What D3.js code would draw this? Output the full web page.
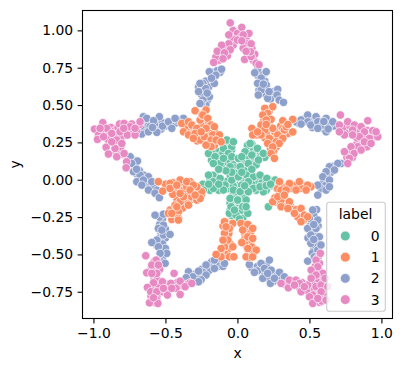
<!DOCTYPE html>
<html>
<head>
<meta charset="utf-8">
<script src="https://cdn.jsdelivr.net/npm/d3@7"></script>
<style>
  html, body { margin: 0; padding: 0; background: #fff; }
  svg { display: block; }
  text { font-family: "DejaVu Sans", sans-serif; font-size: 13.9px; fill: #000; }
</style>
</head>
<body>
<div id="chart"></div>
<script>
const labels = ["0", "1", "2", "3"];
const colors = ["#66c2a5", "#fc8d62", "#8da0cb", "#e78ac3"];
const xTicks = [-1, -0.5, 0, 0.5, 1];
const yTicks = [-0.75, -0.5, -0.25, 0, 0.25, 0.5, 0.75, 1];

// points, [x, y]
const label0 = [
  [-0.06,0.23],[-0.1,0.24],[-0.07,0.2],[-0.04,0.2],[-0.14,0.19],[-0.17,0.17],[-0.12,0.16],[-0.18,0.13],[-0.14,0.12],[-0.09,0.11],
  [-0.05,0.12],[-0.1,0.18],[-0.03,0.1],[-0.07,0.07],[-0.11,0.08],[-0.04,0.22],
  [0.07,0.2],[0.11,0.21],[0.1,0.24],[0.13,0.18],[0.16,0.18],[0.16,0.15],[0.12,0.13],[0.09,0.14],[0.06,0.14],[0.05,0.11],[0.1,0.1],
  [0.03,0.12],[0.04,0.09],[0.13,0.1],[0.07,0.23],[0.19,0.15],
  [-0.19,0],[-0.22,-0.04],[-0.2,-0.06],[-0.15,0.02],[-0.14,-0.04],[-0.13,-0.07],[-0.1,-0.02],[-0.07,-0.01],[-0.07,-0.06],[-0.17,0.03],
  [-0.24,-0.03],[-0.19,-0.07],
  [-0.02,0.08],[0,0.05],[-0.02,0.01],[0.02,0],[0.04,-0.01],[0.01,-0.04],[-0.03,-0.04],[-0.05,0.03],[0.05,0.06],[0.03,0.03],
  [0.09,0.01],[0.13,0],[0.14,-0.03],[0.1,-0.03],[0.17,-0.02],[0.2,-0.02],[0.22,0],[0.24,-0.04],[0.2,-0.07],[0.17,-0.06],[0.13,-0.07],
  [0.07,-0.04],[0.25,-0.01],[0.27,-0.03],
  [0,-0.1],[-0.03,-0.1],[0.03,-0.09],[0.03,-0.14],[-0.03,-0.15],[-0.02,-0.17],[0.02,-0.17],[0,-0.19],[0.04,-0.22],[-0.02,-0.23],[0,-0.25],
  [-0.05,-0.2],[0.05,-0.16],[-0.04,-0.24],[0.03,-0.26],[-0.03,-0.13],
  [-0.074,0.266],[-0.028,0.254],[-0.201,0.176],[-0.155,0.154],[-0.097,0.21],[-0.0625,0.176],[-0.12,0.109],[-0.167,0.109],
  [-0.097,0.143],[-0.039,0.154],[0.007,0.143],[0.088,0.243],[0.139,0.21],[0.18,0.176],[0.053,0.1875],[0.1,0.165],
  [0.03,0.154],[0.146,0.132],[0.076,0.109],[0.019,0.087],[-0.051,0.087],[-0.016,0.042],[-0.201,0.031],[-0.167,-0.013],
  [-0.236,-0.069],[-0.167,-0.058],[-0.12,0.009],[-0.086,-0.036],[-0.039,-0.002],[0.007,0.02],[0.065,0.031],[0.111,0.02],
  [0.157,0.031],[0.204,0.009],[0.076,-0.013],[0.03,-0.036],[0.111,-0.058],[0.18,-0.08],[0.262,-0.002],[0.273,-0.058],
  [0.215,-0.181],[0.157,-0.047],[-0.028,-0.069],[0.019,-0.08],[-0.051,-0.158],[0.007,-0.136],[0.053,-0.125],[-0.016,-0.203],
  [0.019,-0.237],[0.053,-0.192],[-0.051,-0.125],[0.076,-0.08],[-0.097,-0.069],[-0.056,-0.225],[0.037,-0.259],[0.002,-0.136],
  [0.06,-0.136],[-0.044,-0.181],[0.025,-0.203],[0.072,-0.225],[-0.009,-0.237],[0.037,-0.181],[0.014,-0.263],[-0.021,-0.203],
  [0.06,-0.181],[-0.04,0.05],[0.03,0.05],[-0.08,0.06],[0.1,0.07],[-0.13,0.07],[0.05,-0.04],[-0.13,-0.03],[-0.2,-0.03],
  [0.2,-0.04],[0.23,-0.03]
];
const label1 = [
  [0.22,0.46],[0.2,0.43],[0.22,0.38],[0.18,0.39],[0.16,0.34],[0.18,0.35],[0.21,0.35],[0.13,0.3],[0.19,0.28],[0.26,0.32],[0.29,0.33],
  [0.3,0.36],[0.28,0.27],[0.25,0.26],[0.3,0.26],[0.23,0.24],[0.27,0.22],[0.23,0.21],[0.25,0.19],[0.35,0.31],[0.31,0.31],[0.15,0.33],[0.2,0.31],
  [-0.35,0.35],[-0.33,0.33],[-0.3,0.34],[-0.27,0.3],[-0.32,0.3],[-0.28,0.26],[-0.25,0.29],[-0.24,0.27],[-0.23,0.38],[-0.22,0.41],[-0.2,0.38],
  [-0.2,0.34],[-0.19,0.31],[-0.2,0.29],[-0.15,0.31],[-0.16,0.26],[-0.2,0.24],[-0.16,0.23],[-0.13,0.27],[-0.25,0.36],[-0.23,0.45],[-0.36,0.36],
  [0.28,-0.06],[0.32,-0.05],[0.35,-0.04],[0.4,-0.04],[0.45,-0.04],[0.26,-0.12],[0.27,-0.15],[0.33,-0.15],[0.33,-0.18],[0.37,-0.18],[0.38,-0.2],
  [0.41,-0.2],[0.42,-0.25],[0.46,-0.27],[0.3,-0.16],[0.39,-0.04],[0.47,-0.04],
  [-0.07,-0.29],[-0.05,-0.3],[-0.07,-0.34],[-0.08,-0.38],[-0.06,-0.36],[-0.08,-0.43],[-0.05,-0.43],[-0.1,-0.48],[-0.07,-0.47],[-0.08,-0.5],
  [-0.12,-0.49],[0.05,-0.3],[0.08,-0.33],[0.05,-0.36],[0.09,-0.36],[0.05,-0.4],[0.09,-0.42],[0.05,-0.43],[0.1,-0.45],[0.08,-0.49],[0.11,-0.49],
  [0.09,-0.52],[-0.1,-0.31],
  [-0.5,-0.05],[-0.46,-0.05],[-0.43,-0.07],[-0.4,-0.05],[-0.37,-0.04],[-0.35,-0.08],[-0.32,-0.05],[-0.3,-0.08],[-0.27,-0.07],[-0.25,-0.1],
  [-0.38,-0.13],[-0.36,-0.15],[-0.42,-0.13],[-0.4,-0.17],[-0.45,-0.2],[-0.43,-0.22],[-0.38,-0.19],[-0.32,-0.13],[-0.3,-0.12],[-0.44,-0.25],
  [-0.5,-0.03],[-0.45,-0.02],
  [0.245,0.489],[0.19,0.478],[0.21,0.444],[0.176,0.433],[0.234,0.404],[0.2,0.4],[0.315,0.395],[0.384,0.404],[0.164,0.366],
  [0.315,0.344],[0.245,0.344],[0.19,0.333],[0.1,0.344],[0.106,0.3],[0.164,0.3],[0.384,0.32],[0.326,0.333],[0.28,0.3],
  [0.315,0.277],[0.222,0.277],[0.27,0.254],[0.21,0.243],[0.29,0.243],[0.245,0.22],[0.234,0.176],[0.257,0.143],[0.338,0.355],
  [0.14,0.32],[0.2,0.37],[0.35,0.37],
  [0.303,-0.069],[0.373,-0.058],[0.442,-0.058],[0.51,-0.047],[0.245,-0.147],[0.303,-0.136],[0.361,-0.147],[0.303,-0.181],
  [0.35,-0.192],[0.442,-0.192],[0.396,-0.225],[0.465,-0.237],[0.442,-0.281],[0.488,-0.248],[0.292,-0.013],[0.361,-0.025],
  [0.43,-0.013],[0.488,-0.036],[0.338,-0.069],[0.407,-0.069],[0.477,-0.069],[0.28,-0.114],[0.326,-0.103],
  [-0.09,-0.281],[-0.032,-0.292],[-0.056,-0.326],[-0.09,-0.359],[-0.067,-0.404],[-0.09,-0.449],[-0.032,-0.449],[-0.113,-0.46],
  [-0.113,-0.516],[-0.148,-0.5],[-0.056,-0.516],[-0.025,-0.516],[0.025,-0.292],[0.072,-0.299],[0.037,-0.337],[0.106,-0.326],
  [0.072,-0.382],[0.106,-0.393],[0.03,-0.42],[0.072,-0.46],[0.13,-0.471],[0.06,-0.516],[0.106,-0.516],[-0.079,-0.315],[-0.1,-0.404],
  [-0.387,0.377],[-0.34,0.388],[-0.317,0.366],[-0.282,0.344],[-0.375,0.321],[-0.34,0.3],[-0.294,0.31],[-0.259,0.266],
  [-0.306,0.277],[-0.294,0.462],[-0.259,0.4],[-0.248,0.433],[-0.218,0.467],[-0.24,0.433],[-0.206,0.411],[-0.183,0.366],
  [-0.218,0.344],[-0.16,0.355],[-0.171,0.3],[-0.125,0.3],[-0.229,0.288],[-0.183,0.266],[-0.148,0.266],[-0.252,0.321],
  [-0.183,0.221],[-0.218,0.232],[-0.113,0.254],
  [-0.549,-0.013],[-0.468,-0.025],[-0.398,-0.002],[-0.329,-0.013],[-0.519,-0.076],[-0.449,-0.098],[-0.375,-0.069],[-0.317,-0.114],
  [-0.248,-0.08],[-0.398,-0.147],[-0.34,-0.17],[-0.282,-0.136],[-0.468,-0.203],[-0.41,-0.214],[-0.456,-0.266],[-0.41,-0.259],
  [-0.421,-0.047],[-0.352,-0.047],[-0.282,-0.047],[-0.468,-0.058],[-0.375,-0.114],[-0.433,-0.17],[-0.479,-0.225],
  [-0.421,-0.036],[-0.352,-0.013],[-0.306,-0.036],[-0.398,-0.092],[-0.329,-0.069],[-0.259,-0.125],[-0.421,-0.181],[-0.456,-0.225],
  [-0.41,-0.27],[-0.294,-0.103]
];
const label2 = [
  [0.14,0.7],[0.18,0.71],[0.19,0.66],[0.16,0.62],[0.15,0.6],[0.19,0.61],[0.2,0.57],[0.17,0.58],[0.24,0.56],[0.25,0.59],[0.23,0.54],[0.14,0.74],
  [-0.12,0.72],[-0.17,0.72],[-0.17,0.67],[-0.19,0.65],[-0.22,0.66],[-0.2,0.62],[-0.23,0.57],[-0.21,0.53],[-0.22,0.5],[-0.25,0.57],[-0.14,0.73],[-0.27,0.62],
  [0.46,0.39],[0.47,0.41],[0.52,0.41],[0.53,0.39],[0.52,0.35],[0.57,0.37],[0.59,0.39],[0.61,0.39],[0.63,0.39],[0.6,0.34],[0.64,0.36],[0.67,0.36],[0.42,0.38],[0.55,0.41],
  [0.67,0.09],[0.65,0.05],[0.62,0.03],[0.6,-0.01],[0.61,-0.04],[0.58,-0.06],[0.55,-0.2],[0.53,-0.24],[0.52,-0.28],[0.51,-0.3],[0.56,-0.31],[0.53,-0.35],
  [0.49,-0.39],[0.54,-0.38],[0.53,-0.45],[0.55,-0.43],[0.52,-0.49],
  [0.1,-0.59],[0.14,-0.58],[0.17,-0.6],[0.14,-0.61],[0.2,-0.6],[0.22,-0.64],[0.24,-0.63],[0.19,-0.64],[0.27,-0.63],[0.25,-0.68],[0.22,-0.66],[0.3,-0.66],[0.2,-0.57],
  [-0.12,-0.55],[-0.13,-0.58],[-0.18,-0.55],[-0.19,-0.59],[-0.22,-0.6],[-0.2,-0.61],[-0.25,-0.6],[-0.26,-0.64],[-0.29,-0.63],[-0.33,-0.64],[-0.28,-0.66],[-0.1,-0.58],
  [-0.53,-0.27],[-0.52,-0.26],[-0.54,-0.3],[-0.5,-0.33],[-0.53,-0.36],[-0.5,-0.39],[-0.54,-0.39],[-0.56,-0.44],[-0.52,-0.43],[-0.53,-0.47],[-0.5,-0.46],[-0.52,-0.52],[-0.53,-0.55],[-0.54,-0.25],
  [-0.71,0.1],[-0.7,0.04],[-0.68,0.06],[-0.66,0.01],[-0.63,-0.02],[-0.6,-0.04],[-0.58,-0.05],[-0.56,-0.07],[-0.72,0.13],[-0.74,0.14],[-0.65,0.03],
  [-0.63,0.38],[-0.6,0.39],[-0.57,0.36],[-0.55,0.38],[-0.52,0.38],[-0.5,0.36],[-0.47,0.38],[-0.45,0.38],[-0.43,0.38],[-0.65,0.36],[-0.64,0.33],[-0.62,0.36],[-0.53,0.34],
  [0.12,0.716],[0.2,0.723],[0.165,0.68],[0.14,0.645],[0.2,0.634],[0.165,0.6],[0.28,0.605],[0.145,0.567],[0.21,0.545],[0.275,0.567],
  [0.29,0.533],[0.32,0.518],[0.18,0.64],[0.22,0.59],
  [-0.11,0.74],[-0.195,0.723],[-0.15,0.7],[-0.16,0.645],[-0.24,0.645],[-0.22,0.61],[-0.195,0.556],[-0.24,0.533],[-0.25,0.51],
  [-0.26,0.645],[-0.27,0.59],[-0.26,0.51],[-0.18,0.68],[-0.21,0.58],
  [0.407,0.388],[0.442,0.4],[0.488,0.433],[0.546,0.422],[0.488,0.388],[0.51,0.366],[0.558,0.388],[0.442,0.373],[0.616,0.411],
  [0.616,0.321],[0.593,0.366],[0.639,0.366],[0.558,0.344],[0.662,0.388],[0.6,0.39],[0.63,0.34],
  [0.72,0.109],[0.639,0.087],[0.697,0.109],[0.674,0.065],[0.616,0.054],[0.593,0.02],[0.639,-0.002],[0.558,-0.036],
  [0.616,-0.069],[0.558,-0.103],[0.639,-0.047],[0.523,-0.203],[0.5,-0.259],[0.558,-0.27],[0.488,-0.326],[0.546,-0.326],[0.51,-0.37],
  [0.569,-0.382],[0.51,-0.426],[0.558,-0.47],[0.488,-0.545],[0.535,-0.516],[0.58,-0.437],[0.53,-0.3],[0.53,-0.4],
  [0.083,-0.567],[0.222,-0.538],[0.164,-0.56],[0.118,-0.62],[0.1875,-0.594],[0.234,-0.605],[0.292,-0.62],[0.176,-0.66],
  [0.229,-0.694],[0.257,-0.66],[0.326,-0.65],[0.21,-0.627],
  [-0.16,-0.538],[-0.09,-0.56],[-0.16,-0.594],[-0.218,-0.571],[-0.24,-0.62],[-0.218,-0.638],[-0.252,-0.67],[-0.34,-0.616],
  [-0.27,-0.612],[-0.31,-0.65],[-0.356,-0.656],[-0.27,-0.683],
  [-0.653,0.422],[-0.63,0.411],[-0.542,0.422],[-0.606,0.355],[-0.52,0.359],[-0.56,0.317],[-0.479,0.388],[-0.664,0.306],[-0.618,0.321],
  [-0.456,0.344],[-0.375,0.411],[-0.421,0.4],[-0.671,0.359],[-0.583,0.395],[-0.433,0.411],[-0.59,0.35],
  [-0.745,0.154],[-0.694,0.125],[-0.734,0.109],[-0.722,0.054],[-0.676,0.031],[-0.618,0.02],[-0.699,-0.013],[-0.653,-0.002],[-0.595,-0.013],
  [-0.664,-0.036],[-0.618,-0.069],[-0.572,-0.09],[-0.542,-0.12],[-0.7,0.07],
  [-0.572,-0.237],[-0.514,-0.23],[-0.514,-0.304],[-0.549,-0.326],[-0.514,-0.37],[-0.468,-0.366],[-0.56,-0.404],[-0.595,-0.42],[-0.549,-0.449],
  [-0.491,-0.493],[-0.537,-0.493],[-0.502,-0.56],[-0.56,-0.538],[-0.525,-0.337]
];
const label3 = [
  [-0.03,1],[0,0.98],[0.06,0.95],[-0.03,0.94],[0.02,0.95],[-0.08,0.88],[-0.03,0.9],[0.07,0.91],[0.1,0.88],[0.12,0.84],[0.07,0.84],[0.11,0.8],
  [-0.12,0.83],[-0.13,0.8],[-0.07,0.83],[-0.15,0.82],
  [0.73,0.34],[0.75,0.35],[0.78,0.36],[0.77,0.31],[0.83,0.33],[0.85,0.32],[0.87,0.3],[0.9,0.33],[0.92,0.31],[0.93,0.28],[0.95,0.29],[0.9,0.26],
  [0.87,0.27],[0.86,0.23],[0.83,0.24],[0.82,0.2],[0.9,0.22],[0.78,0.18],[0.76,0.15],[0.8,0.15],[0.9,0.29],[0.94,0.3],[0.83,0.28],
  [0.56,-0.52],[0.57,-0.56],[0.54,-0.58],[0.57,-0.61],[0.53,-0.63],[0.57,-0.66],[0.55,-0.68],[0.52,-0.7],[0.5,-0.73],[0.55,-0.75],[0.52,-0.74],
  [0.48,-0.74],[0.54,-0.79],[0.6,-0.77],[0.57,-0.78],[0.6,-0.68],[0.43,-0.72],[0.38,-0.68],[0.33,-0.7],[0.45,-0.69],[0.57,-0.82],[0.6,-0.73],
  [-0.58,-0.55],[-0.57,-0.59],[-0.6,-0.6],[-0.58,-0.61],[-0.54,-0.6],[-0.58,-0.65],[-0.56,-0.67],[-0.6,-0.72],[-0.58,-0.72],[-0.55,-0.71],[-0.58,-0.76],
  [-0.6,-0.78],[-0.56,-0.78],[-0.58,-0.82],[-0.52,-0.75],[-0.49,-0.7],[-0.47,-0.73],[-0.44,-0.7],[-0.42,-0.69],[-0.38,-0.71],[-0.35,-0.7],[-0.33,-0.69],[-0.5,-0.74],
  [-0.9,0.3],[-0.92,0.32],[-0.88,0.35],[-0.85,0.33],[-0.83,0.35],[-0.8,0.36],[-0.77,0.34],[-0.75,0.31],[-0.73,0.33],[-0.7,0.33],[-0.68,0.37],[-0.84,0.3],
  [-0.81,0.28],[-0.86,0.27],[-0.83,0.24],[-0.85,0.18],[-0.82,0.2],[-0.8,0.17],[-0.81,0.22],[-0.9,0.27],[-0.95,0.32],[-0.77,0.12],
  [-0.05,1.05],[0.03,1.02],[0.08,0.98],[-0.06,0.97],[0.04,0.97],[0,0.935],[-0.06,0.91],[0.095,0.91],[0.04,0.88],[-0.11,0.9],[-0.14,0.86],
  [-0.05,0.87],[-0.09,0.85],[-0.1,0.81],[-0.165,0.785],[0.05,0.805],[0.095,0.825],[0.13,0.78],[0.15,0.77],[0.09,0.857],[0.03,0.93],[0.06,0.86],
  [0.715,0.433],[0.905,0.395],[0.708,0.366],[0.766,0.388],[0.8125,0.366],[0.859,0.355],[0.94,0.328],[0.743,0.3],[0.8,0.333],[0.975,0.288],
  [0.882,0.321],[0.917,0.277],[0.847,0.288],[0.8,0.3],[0.708,0.321],[0.882,0.254],[0.836,0.221],[0.789,0.221],[0.743,0.1875],[0.81,0.176],
  [0.778,0.143],[0.766,0.109],[0.928,0.243],[0.859,0.199],[0.963,0.321],
  [0.576,-0.493],[0.546,-0.538],[0.558,-0.583],[0.512,-0.605],[0.593,-0.627],[0.546,-0.638],[0.303,-0.694],[0.354,-0.723],[0.361,-0.672],
  [0.407,-0.672],[0.431,-0.694],[0.442,-0.75],[0.488,-0.705],[0.546,-0.716],[0.581,-0.705],[0.523,-0.772],[0.581,-0.75],[0.5,-0.784],
  [0.523,-0.828],[0.586,-0.812],[0.558,-0.795],[0.616,-0.806],[0.627,-0.716],[0.609,-0.66],[0.465,-0.716],[0.396,-0.705],[0.512,-0.66],
  [-0.993,0.339],[-0.935,0.382],[-0.965,0.299],[-0.972,0.27],[-0.907,0.344],[-0.954,0.344],[-0.873,0.31],[-0.819,0.373],[-0.787,0.377],
  [-0.734,0.373],[-0.676,0.388],[-0.815,0.321],[-0.764,0.299],[-0.711,0.299],[-0.838,0.266],[-0.912,0.217],[-0.85,0.21],[-0.896,0.172],
  [-0.838,0.154],[-0.787,0.176],[-0.773,0.08],[-0.803,0.243],[-0.873,0.254],[-0.93,0.288],[-0.745,0.355],[-0.79,0.344],[-0.711,0.344],
  [-0.637,-0.509],[-0.565,-0.538],[-0.595,-0.571],[-0.549,-0.571],[-0.63,-0.623],[-0.56,-0.627],[-0.44,-0.627],[-0.521,-0.683],[-0.583,-0.69],
  [-0.625,-0.721],[-0.602,-0.75],[-0.56,-0.75],[-0.56,-0.806],[-0.611,-0.824],[-0.553,-0.828],[-0.583,-0.79],[-0.463,-0.694],[-0.486,-0.772],
  [-0.426,-0.727],[-0.398,-0.768],[-0.398,-0.679],[-0.363,-0.716],[-0.317,-0.694],[-0.456,-0.727],[-0.514,-0.727],[-0.595,-0.627]
];

const width = 402, height = 371;
const plot = { left: 82.5, right: 392.5, top: 10.5, bottom: 318.5 };

const x = d3.scaleLinear().domain([-1.076, 1.077]).range([plot.left, plot.right]);
const y = d3.scaleLinear().domain([-0.929, 1.133]).range([plot.bottom, plot.top]);
const minus = s => s.replace("-", "\u2212");

const svg = d3.select("#chart").append("svg")
  .attr("width", width)
  .attr("height", height);

// order that gives the same overlaps as the picture
const drawOrder = [
  { points: label0, c: 0 },
  { points: label2, c: 2 },
  { points: label1, c: 1 },
  { points: label3, c: 3 }
];
drawOrder.forEach(s => {
  svg.append("g").selectAll("circle")
    .data(s.points)
    .enter()
    .append("circle")
    .attr("cx", d => x(d[0]))
    .attr("cy", d => y(d[1]))
    .attr("r", 4.2)
    .attr("fill", colors[s.c])
    .attr("stroke", "#fff")
    .attr("stroke-width", 0.67);
});

const xAxis = svg.append("g")
  .attr("transform", `translate(0,${plot.bottom})`)
  .call(d3.axisBottom(x).tickValues(xTicks).tickSize(4.9).tickPadding(4.5)
    .tickFormat(d => minus(d3.format(".1f")(d))));
const yAxis = svg.append("g")
  .attr("transform", `translate(${plot.left},0)`)
  .call(d3.axisLeft(y).tickValues(yTicks).tickSize(4.9).tickPadding(4.5)
    .tickFormat(d => minus(d3.format(".2f")(d))));

[xAxis, yAxis].forEach(a => {
  a.select(".domain").remove();
  a.selectAll("line").attr("stroke", "#000").attr("stroke-width", 1.1);
  a.selectAll("text").style("font-family", '"DejaVu Sans", sans-serif').style("font-size", "13.9px");
});

svg.append("rect")
  .attr("x", plot.left)
  .attr("y", plot.top)
  .attr("width", plot.right - plot.left)
  .attr("height", plot.bottom - plot.top)
  .attr("fill", "none")
  .attr("stroke", "#000")
  .attr("stroke-width", 1.1);

svg.append("text")
  .attr("x", (plot.left + plot.right) / 2)
  .attr("y", 358)
  .attr("text-anchor", "middle")
  .text("x");

svg.append("text")
  .attr("transform", `translate(20,${(plot.top + plot.bottom) / 2}) rotate(-90)`)
  .attr("text-anchor", "middle")
  .text("y");

// Legend
const legend = svg.append("g");
legend.append("rect")
  .attr("x", 326.7)
  .attr("y", 202.3)
  .attr("width", 58.6)
  .attr("height", 109)
  .attr("rx", 2.8)
  .attr("fill", "#fff")
  .attr("fill-opacity", 0.8)
  .attr("stroke", "#ccc")
  .attr("stroke-width", 1.1);

legend.append("text")
  .attr("x", 355.5)
  .attr("y", 219)
  .attr("text-anchor", "middle")
  .text("label");

const legendY = d3.scalePoint().domain(labels).range([236, 299.6]);
labels.forEach((l, i) => {
  legend.append("circle")
    .attr("cx", 345.3)
    .attr("cy", legendY(l))
    .attr("r", 4.9)
    .attr("fill", colors[i])
    .attr("stroke", "#fff")
    .attr("stroke-width", 0.67);
  legend.append("text")
    .attr("x", 370.7)
    .attr("y", legendY(l) + 5)
    .text(l);
});
</script>
</body>
</html>
